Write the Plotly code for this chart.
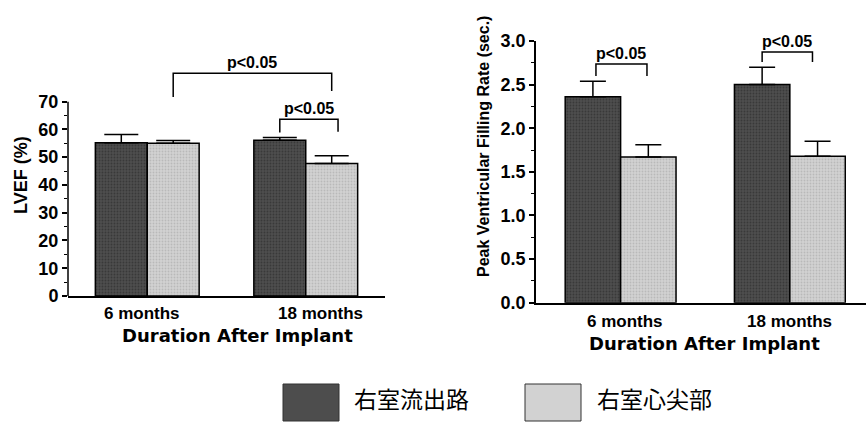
import plotly.graph_objects as go

categories = ["6 months", "18 months"]
series_names = ["右室流出路", "右室心尖部"]

lvef_outflow = [55.2, 56.1]
lvef_outflow_err = [3.0, 1.0]
lvef_apex = [55.0, 47.7]
lvef_apex_err = [1.0, 2.8]

pfr_outflow = [2.36, 2.50]
pfr_outflow_err = [0.18, 0.20]
pfr_apex = [1.67, 1.68]
pfr_apex_err = [0.14, 0.17]

p_label = "p<0.05"
x_title = "Duration After Implant"
lvef_title = "LVEF (%)"
pfr_title = "Peak Ventricular Filling Rate (sec.)"
lvef_ticks = [0, 10, 20, 30, 40, 50, 60, 70]
pfr_ticks = [0.0, 0.5, 1.0, 1.5, 2.0, 2.5, 3.0]

DARK = "#4d4d4d"
LIGHT = "#d2d2d2"
FONT = "Liberation Sans, Arial, sans-serif"
WIDE = "DejaVu Sans, sans-serif"
CJK = "Noto Sans CJK JP, sans-serif"

W, H = 866, 423
fig = go.Figure()

def bar(x, y, err, color, fg, xa, ya, width):
    return go.Bar(
        x=x, y=y, xaxis=xa, yaxis=ya, showlegend=False,
        marker=dict(color=color, line=dict(color="black", width=1.5),
                    pattern=dict(shape=".", fgcolor=fg, bgcolor=color, size=3, solidity=0.3)),
        error_y=dict(type="data", symmetric=False, array=err, arrayminus=[0] * len(err),
                     color="black", thickness=1.5, width=width),
    )

fig.add_trace(bar(categories, lvef_outflow, lvef_outflow_err, DARK, "#262626", "x", "y", 17))
fig.add_trace(bar(categories, lvef_apex, lvef_apex_err, LIGHT, "#a0a0a0", "x", "y", 17))
fig.add_trace(bar(categories, pfr_outflow, pfr_outflow_err, DARK, "#262626", "x2", "y2", 13))
fig.add_trace(bar(categories, pfr_apex, pfr_apex_err, LIGHT, "#a0a0a0", "x2", "y2", 13))

tickfont = dict(family=FONT, size=18, color="black", weight="bold")

fig.update_layout(
    width=W, height=H, margin=dict(l=0, r=0, t=0, b=0, pad=0, autoexpand=False),
    paper_bgcolor="white", plot_bgcolor="white",
    barmode="group", bargap=0.345, bargroupgap=0,
    font=dict(family=FONT, color="black"),
    xaxis=dict(domain=[68 / W, 385 / W], range=[-0.5, 1.5], showline=True, linecolor="black",
               linewidth=1.5, ticks="", showticklabels=False, automargin=False, anchor="y"),
    yaxis=dict(domain=[(H - 296) / H, (H - 60) / H], range=[0, 85], showline=False,
               tickvals=lvef_ticks, ticks="outside", ticklen=5, tickwidth=1.5, tickcolor="black",
               tickfont=tickfont, showgrid=False, zeroline=False, anchor="x", automargin=False,
               minor=dict(tickvals=[5, 15, 25, 35, 45, 55, 65], ticks="outside", ticklen=3,
                          tickwidth=1, tickcolor="black", showgrid=False)),
    xaxis2=dict(domain=[536 / W, 1.0], range=[-0.5, 1.45], showline=True, linecolor="black",
                linewidth=1.5, ticks="", showticklabels=False, automargin=False, anchor="y2"),
    yaxis2=dict(domain=[(H - 302.7) / H, (H - 41) / H], range=[0, 3.0], showline=True,
                linecolor="black", linewidth=1.5, tickvals=pfr_ticks, automargin=False,
                tickformat=".1f", ticks="outside", ticklen=5, tickwidth=1.5, tickcolor="black",
                tickfont=tickfont, showgrid=False, zeroline=False, anchor="x2",
                minor=dict(tickvals=[0.25, 0.75, 1.25, 1.75, 2.25, 2.75], ticks="outside",
                           ticklen=3, tickwidth=1, tickcolor="black", showgrid=False)),
)

# left y axis line only up to 70
fig.add_shape(type="line", xref="x domain", yref="y", x0=0, x1=0, y0=0, y1=70,
              line=dict(color="black", width=1.5))

# category labels and x titles
for xa, ya, shifts, lab_y, title_x, title_y in [
    ("x", "y", [-5, 15], 313, 237, 335),
    ("x2", "y2", [4, 0], 321, 704, 343),
]:
    for i, (cat, sh) in enumerate(zip(categories, shifts)):
        fig.add_annotation(xref=xa, yref="paper", x=i, y=(H - lab_y) / H, xshift=sh,
                           text=f"<b>{cat}</b>", showarrow=False, xanchor="center",
                           yanchor="middle", font=dict(family=FONT, size=17, color="black"))
    fig.add_annotation(xref="paper", yref="paper", x=title_x / W, y=(H - title_y) / H,
                       text=f"<b>{x_title}</b>", showarrow=False, xanchor="center",
                       yanchor="middle", font=dict(family=WIDE, size=18, color="black"))

off = (1 - 0.345) / 4

def bracket(xa, ya, xl, xr, top, yl, yr):
    fig.add_shape(type="path", xref=xa, yref=ya,
                  path=f"M {xl},{yl} L {xl},{top} L {xr},{top} L {xr},{yr}",
                  line=dict(color="black", width=1.5))
    fig.add_annotation(xref=xa, yref=ya, x=(xl + xr) / 2, y=top, text=f"<b>{p_label}</b>",
                       showarrow=False, yanchor="bottom", yshift=0,
                       font=dict(family=FONT, size=16, color="black"))

bracket("x", "y", 0 + off, 1 + off, 80.2, 71.7, 73.8)
bracket("x", "y", 1 - off, 1 + off + 0.04, 63.7, 58.9, 59.2)
bracket("x2", "y2", 0 - off + 0.018, 0 + off - 0.008, 2.737, 2.60, 2.60)
bracket("x2", "y2", 1 - off, 1 + off - 0.03, 2.875, 2.76, 2.76)

# y titles
fig.add_annotation(xref="paper", yref="paper", x=21 / W, y=(H - 175) / H, text=f"<b>{lvef_title}</b>",
                   textangle=-90, showarrow=False, xanchor="center", yanchor="middle",
                   font=dict(family=FONT, size=18, color="black"))
fig.add_annotation(xref="paper", yref="paper", x=483 / W, y=(H - 146) / H,
                   text=f"<b>{pfr_title}</b>",
                   textangle=-90, showarrow=False, xanchor="center", yanchor="middle",
                   font=dict(family=FONT, size=16, color="black"))

# legend
for (x0, x1, tx), name, color in zip([(283, 339, 352), (525, 581, 595)], series_names,
                                     [DARK, LIGHT]):
    fig.add_shape(type="rect", xref="paper", yref="paper", x0=x0 / W, x1=x1 / W,
                  y0=(H - 421) / H, y1=(H - 384) / H, fillcolor=color,
                  line=dict(color="#333333", width=1))
    fig.add_annotation(xref="paper", yref="paper", x=tx / W, y=(H - 398) / H, text=name,
                       showarrow=False, xanchor="left", yanchor="middle",
                       font=dict(family=CJK, size=23, color="black"))

fig.write_html("out.html", config={"displayModeBar": False},
               post_script="document.body.style.margin='0';document.body.style.padding='0';")
